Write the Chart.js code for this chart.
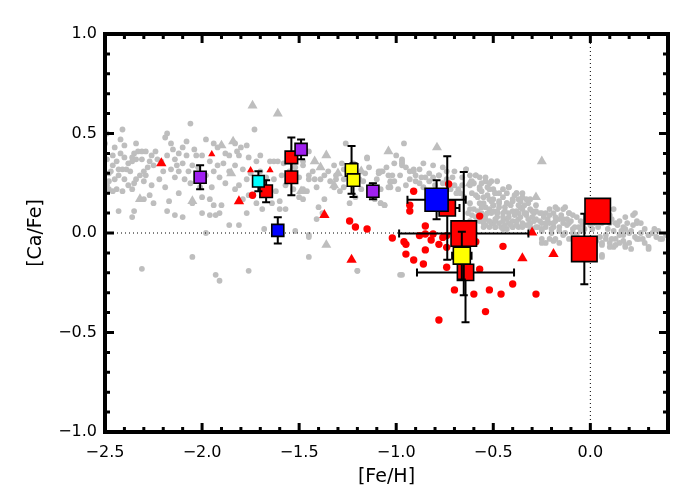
<!DOCTYPE html>
<html><head><meta charset="utf-8">
<script src="https://cdn.jsdelivr.net/npm/chart.js@4.4.1/dist/chart.umd.min.js"></script>
<style>html,body{margin:0;padding:0;background:#fff;}</style>
</head><body>
<canvas id="c" width="700" height="500"></canvas>
<script>
// ---------- axis ticks ----------
const xTicks = [-2.5, -2.0, -1.5, -1.0, -0.5, 0.0];
const yTicks = [-1.0, -0.5, 0.0, 0.5, 1.0];
const xRange = [-2.5, 0.4];
const yRange = [-1.0, 1.0];

// ---------- reference lines ([Ca/Fe]=0 and [Fe/H]=0) ----------
const zeroLineH = [[-2.5, 0], [0.4, 0]];
const zeroLineV = [[0, -1.0], [0, 1.0]];

// ---------- grey comparison stars (dots) [Fe/H],[Ca/Fe] ----------
const greyDots = [
[-2.06,0.55],[-2.41,0.52],[-1.73,0.52],[-2.49,0.50],[-2.18,0.50],[-2.50,0.45],[-2.42,0.47],[-2.34,0.45],[-2.19,0.48],[-2.16,0.45],[-2.08,0.46],[-1.98,0.47],[-1.77,0.44],
[-2.31,0.41],[-2.33,0.41],[-2.35,0.40],[-2.36,0.38],[-2.34,0.37],[-2.36,0.36],[-2.38,0.35],[-2.39,0.32],[-2.37,0.31],[-2.41,0.32],[-2.43,0.32],[-2.46,0.34],[-2.47,0.31],[-2.48,0.30],[-2.45,0.27],[-2.49,0.24],[-2.48,0.26],[-2.49,0.37],[-2.46,0.39],[-2.42,0.40],[-2.40,0.38],[-2.44,0.36],
[-2.29,0.41],[-2.24,0.41],[-2.23,0.37],[-2.27,0.36],[-2.25,0.34],[-2.30,0.31],[-2.29,0.29],[-2.32,0.29],[-2.34,0.27],[-2.30,0.26],[-2.35,0.25],[-2.36,0.22],[-2.41,0.21],[-2.44,0.22],[-2.48,0.22],[-2.46,0.21],
[-2.18,0.39],[-2.14,0.37],[-2.12,0.40],[-2.08,0.39],[-2.13,0.34],[-2.10,0.35],[-2.12,0.31],[-2.14,0.28],[-2.09,0.27],[-2.07,0.31],[-2.05,0.34],[-2.06,0.25],[-2.03,0.39],[-2.00,0.39],[-1.96,0.36],[-1.92,0.34],[-1.94,0.31],[-1.98,0.29],[-1.91,0.28],[-2.01,0.23],[-2.00,0.18],[-1.96,0.17],[-2.05,0.15],[-2.12,0.20],[-2.17,0.16],[-2.18,0.11],[-2.14,0.09],[-2.10,0.08],[-1.94,0.14],[-1.90,0.14],[-2.00,0.10],[-1.96,0.09],[-1.93,0.09],[-1.91,0.10],
[-1.86,0.39],[-1.82,0.41],[-1.81,0.39],[-1.83,0.34],[-1.79,0.32],[-1.76,0.38],[-1.72,0.36],[-1.70,0.39],[-1.65,0.36],[-1.63,0.36],[-1.61,0.36],[-1.58,0.35],[-1.77,0.27],[-1.81,0.24],[-1.83,0.22],[-1.79,0.17],[-1.76,0.19],[-1.72,0.15],[-1.69,0.12],[-1.64,0.15],[-1.60,0.16],[-1.60,0.12],[-1.57,0.12],[-1.77,0.10],[-1.81,0.04],[-1.86,0.04],[-1.98,0.00],[-1.68,0.02],[-1.52,0.01],
[-2.43,0.11],[-2.36,0.08],[-2.35,0.11],[-2.25,0.15],[-2.27,0.19],[-2.30,0.17],
[-2.05,-0.12],[-2.31,-0.18],[-1.93,-0.21],[-1.91,-0.24],[-1.76,-0.19],
[-1.94,0.45],[-1.92,0.43],[-1.88,0.40],[-1.83,0.45],[-1.80,0.43],
[-1.26,0.45],[-1.45,0.41],[-1.37,0.29],[-1.31,0.29],[-1.27,0.27],[-1.09,0.30],[-1.07,0.31],[-1.12,0.24],[-1.48,0.34],[-1.45,0.29],[-1.38,0.10],[-1.45,-0.02],[-1.45,-0.12],
[-0.96,0.45],[-1.15,0.38],[-1.32,0.34],[-1.27,0.32],[-0.97,0.37],[-0.97,0.34],[-0.95,0.33],[-1.09,0.31],[-1.08,0.31],[-1.04,0.29],[-1.03,0.23],[-1.01,0.26],[-0.98,0.29],[-0.91,0.32],[-0.90,0.29],[-0.85,0.28],[-0.83,0.26],[-0.81,0.28],[-0.78,0.29],[-0.74,0.27],[-0.71,0.28],[-0.64,0.32],[-0.62,0.29],[-0.57,0.28],[-0.54,0.28],[-0.51,0.26],[-0.48,0.26],[-0.53,0.23],[-0.57,0.22],[-0.61,0.20],[-0.49,0.20],[-0.52,0.17],[-0.55,0.15],[-0.50,0.14],[-0.48,0.10],[-0.49,0.07],[-0.51,0.05],[-0.55,0.05],[-0.54,0.09],[-0.57,0.06],[-0.60,0.05],[-0.62,0.06],[-0.61,0.09],[-0.63,0.10],
[-1.46,0.21],[-1.48,0.17],[-1.40,0.13],[-1.37,0.17],[-1.41,0.07],[-1.45,-0.01],[-1.20,-0.19],[-0.97,-0.21],[-1.17,0.26],[-1.13,0.24],[-1.08,0.22],[-1.06,0.14],[-1.11,0.17],[-1.08,0.15],[-1.21,0.18],[-1.24,0.15],[-1.27,0.23],[-1.31,0.27],[-1.32,0.23],[-1.29,0.21],[-1.48,0.36],[-1.45,0.27],[-1.42,0.27],[-1.39,0.27],[-1.48,0.22],
[-1.15,0.375],[-1.085,0.305],[-1.03,0.255],
[-1.00,0.39],[-0.97,0.36],[-0.97,0.35],[-0.93,0.31],[-0.91,0.31],[-0.88,0.32],[-1.03,0.26],[-1.04,0.23],[-1.02,0.29],[-0.90,0.26],[-0.87,0.28],[-0.83,0.30],[-0.78,0.29],[-0.74,0.31],[-0.68,0.22],[-0.67,0.20],[-0.69,0.20],[-0.64,0.32],[-0.61,0.26],[-0.59,0.29],[-0.62,0.24],[-0.57,0.23],[-0.54,0.26],[-0.50,0.22],[-0.47,0.20],[-0.43,0.20],[-0.42,0.23],[-0.38,0.20],[-0.37,0.17],[-0.40,0.16],[-0.43,0.15],[-0.47,0.15],[-0.50,0.14],[-0.54,0.13],[-0.57,0.15],[-0.58,0.11],[-0.51,0.10],[-0.48,0.11],[-0.45,0.10],[-0.42,0.10],[-0.38,0.11],[-0.35,0.12],[-0.33,0.09],[-0.37,0.07],[-0.40,0.06],[-0.43,0.07],[-0.47,0.05],[-0.50,0.05],[-0.54,0.07],[-0.33,0.04],[-0.37,0.03],[-0.40,0.03],[-0.43,0.02],[-0.46,0.03],[-0.49,0.03],[-0.52,0.03],[-0.55,0.03],[-1.08,0.15],[-1.06,0.14],
[-0.59,0.29],[-0.52,0.25],[-0.52,0.22],[-0.49,0.20],[-0.45,0.22],[-0.42,0.23],[-0.38,0.20],[-0.40,0.17],[-0.35,0.18],[-0.32,0.15],[-0.36,0.13],[-0.43,0.15],[-0.47,0.16],[-0.50,0.17],[-0.55,0.18],[-0.59,0.19],[-0.56,0.13],[-0.52,0.12],[-0.48,0.10],[-0.44,0.11],[-0.40,0.11],[-0.37,0.10],[-0.33,0.10],[-0.30,0.11],[-0.26,0.10],[-0.23,0.10],[-0.19,0.10],[-0.17,0.12],[-0.13,0.13],[-0.11,0.10],[-0.07,0.08],[-0.11,0.05],[-0.14,0.05],[-0.18,0.06],[-0.21,0.05],[-0.25,0.05],[-0.28,0.07],[-0.31,0.05],[-0.35,0.05],[-0.38,0.06],[-0.42,0.05],[-0.45,0.06],[-0.49,0.06],[-0.52,0.06],[-0.55,0.06],[-0.57,0.09],[-0.54,0.04],[-0.49,0.03],[-0.45,0.02],[-0.40,0.03],[-0.35,0.03],[-0.25,0.02],[-0.19,0.03],[-0.16,0.01],[-0.13,0.00],[-0.09,0.02],[-0.06,0.03],[0.02,0.05],[0.06,0.05],[0.10,0.05],[0.13,0.05],[0.17,0.03],[0.18,0.08],[0.22,0.09],[0.24,0.05],[0.26,0.05],[0.28,0.02],[0.20,0.00],[0.17,-0.01],[0.13,-0.03],[0.10,-0.05],[0.06,-0.06],[0.12,-0.07],[0.18,-0.06],[0.24,-0.03],[0.27,-0.03],[0.30,-0.07],[0.34,-0.02],[0.37,-0.03],[0.39,-0.01],[0.30,-0.01],[0.06,-0.11],[-0.23,-0.05],[-0.19,-0.04],[-0.25,-0.03],
[-0.35,0.20],[-0.33,0.17],[-0.37,0.14],[-0.34,0.10],[-0.31,0.12],[-0.28,0.14],[-0.29,0.10],[-0.25,0.10],[-0.21,0.12],[-0.18,0.13],[-0.14,0.12],[-0.11,0.10],[-0.16,0.07],[-0.19,0.05],[-0.23,0.05],[-0.26,0.06],[-0.31,0.05],[-0.35,0.04],[-0.30,0.02],[-0.25,0.01],[-0.20,0.02],[-0.16,0.03],[-0.12,0.04],[-0.08,0.03],[-0.14,-0.01],[-0.18,-0.03],[-0.21,-0.03],[-0.25,-0.05],[-0.16,-0.05],[-0.11,-0.03],[-0.07,-0.01],[0.06,0.06],[0.10,0.09],[0.12,0.12],[0.14,0.04],[0.12,0.01],[0.08,-0.01],[0.05,-0.02],[0.06,-0.05],[0.11,-0.03],[0.15,-0.01],[0.18,0.02],[0.22,0.04],[0.24,0.06],[0.23,-0.02],[0.20,-0.05],[0.17,-0.04],[0.13,-0.06],[0.10,-0.07],[0.18,-0.07],[0.25,-0.03],[0.30,-0.01],[0.33,0.02],[0.36,-0.03],[0.30,-0.08],[0.06,-0.12],[0.23,0.10],
[-1.20,-0.19],[-0.98,-0.21],
[-0.62,0.15],[-0.60,0.12],[-0.58,0.18],[-0.56,0.21],[-0.53,0.19],[-0.51,0.16],[-0.47,0.13],[-0.45,0.18],[-0.44,0.13],[-0.41,0.14],[-0.39,0.19],[-0.36,0.16],[-0.34,0.14],[-0.31,0.17],[-0.30,0.08],[-0.28,0.11],[-0.27,0.03],[-0.24,0.08],[-0.22,0.07],[-0.21,0.09],[-0.18,0.08],[-0.15,0.09],[-0.14,0.07],[-0.12,0.07],[-0.10,0.06],[-0.09,0.09],[-0.05,0.06],[-0.04,0.04],[-0.03,0.02],[-0.02,0.07],[0.00,0.04],[0.01,0.02],[0.03,0.08],[0.04,0.03],[0.08,0.07],[0.09,0.02],[0.11,0.07],[0.15,0.06],[0.16,0.01],[0.19,0.05],[0.21,0.01],[0.26,0.00],[0.28,-0.05],[0.32,0.00],[0.35,0.01],[0.08,-0.03],[0.03,-0.04],[0.15,-0.05],[0.21,-0.08],[-0.45,0.08],[-0.42,0.08],[-0.39,0.09],[-0.36,0.08],[-0.32,0.07],[-0.29,0.06],[-0.44,0.04],[-0.41,0.04],[-0.38,0.04],[-0.31,0.03],[-0.28,0.03],[-0.23,0.03],[-0.20,0.00],[-0.09,0.00],[-0.05,0.01],[-0.48,0.08],[-0.50,0.11],[-0.53,0.10],[-0.56,0.10],[-0.59,0.08],[-0.62,0.12],[-0.65,0.18],[-0.66,0.24],[-0.70,0.24],[-0.72,0.22],[-0.76,0.25],[-0.80,0.24],[-0.86,0.23],[-0.88,0.25],[-0.93,0.27],[-0.95,0.24],[-0.99,0.22],[-0.60,0.25],[-0.56,0.25],[-0.66,0.28],[-0.70,0.31],[-0.76,0.33],[-0.81,0.34],[-0.86,0.35],
[-2.45,0.43],[-2.40,0.44],[-2.31,0.37],[-2.28,0.33],[-2.26,0.39],[-2.21,0.36],[-2.20,0.31],[-2.16,0.32],[-2.22,0.27],[-2.19,0.23],[-2.26,0.24],[-2.40,0.27],[-2.43,0.29],[-2.38,0.24],[-2.15,0.42],[-2.10,0.43],[-2.04,0.42],[-2.02,0.33],[-1.99,0.26],[-1.95,0.23],[-1.88,0.25],[-1.86,0.31],[-1.89,0.35],[-1.75,0.30],[-1.70,0.31],[-1.67,0.28],[-1.63,0.27],[-1.59,0.29],[-1.57,0.24],[-1.62,0.21],[-1.55,0.31],[-1.52,0.33],[-1.50,0.28],[-1.53,0.22],[-1.50,0.18],[-1.43,0.31],[-1.41,0.23],[-1.35,0.31],[-1.34,0.26],[-1.28,0.35],[-1.22,0.35],[-1.19,0.27],[-1.16,0.30],[-1.14,0.33],[-1.18,0.22],[-1.10,0.27],[-1.05,0.33],[-1.01,0.35]
];

// ---------- grey comparison stars (triangles) ----------
const greyTriangles = [
[-2.32,0.17],[-2.05,0.16],[-1.90,0.44],[-1.84,0.46],[-1.85,0.30],[-1.74,0.64],[-1.61,0.60],[-1.49,0.21],[-1.42,0.36],[-1.36,0.39],[-1.39,0.33],[-1.36,-0.06],[-1.30,0.30],[-1.04,0.41],[-0.79,0.43],[-0.25,0.36],[-0.28,0.18],[-1.18,0.31],[-1.32,0.24],[-0.62,0.25]
];

// ---------- red dots ----------
const redDots = [
[-1.74,0.19],[-1.24,0.06],[-1.21,0.03],[-1.15,0.02],[-0.91,0.21],[-0.93,0.14],[-0.93,0.11],[-1.02,-0.025],[-0.96,-0.044],[-0.95,-0.057],[-0.95,-0.106],[-0.91,-0.136],[-0.86,-0.156],[-0.85,-0.085],[-0.85,0.035],[-0.82,-0.035],[-0.78,-0.057],[-0.74,-0.072],[-0.74,-0.172],[-0.88,-0.013],[-0.85,-0.005],[-0.81,-0.005],[-0.76,-0.022],[-0.74,-0.013],[-0.73,0.246],[-0.57,0.085],[-0.59,-0.044],[-0.45,-0.067],[-0.57,-0.182],[-0.40,-0.256],[-0.52,-0.286],[-0.60,-0.307],[-0.46,-0.307],[-0.28,-0.307],[-0.70,-0.286],[-0.54,-0.395],[-0.78,-0.437]
];

// ---------- red triangles ----------
const redTrianglesLarge = [[-2.21,0.35],[-1.81,0.16],[-1.37,0.09],[-1.23,-0.134],[-0.35,-0.127],[-0.19,-0.106],[-0.30,0.003]];
const redTrianglesSmall = [[-1.95,0.396],[-1.75,0.316],[-1.65,0.316]];

// ---------- coloured squares with error bars ----------
const redSmallFeH  = [-1.67, -1.54, -1.54];
const redSmallCaFe = [0.21, 0.38, 0.28];
const redSmallErrX = [0, 0.02, 0.02];
const redSmallErrY = [0.055, 0.10, 0.09];

const purpleFeH  = [-2.01, -1.49, -1.12];
const purpleCaFe = [0.28, 0.42, 0.21];
const purpleErrX = [0, 0, 0];
const purpleErrY = [0.06, 0.05, 0.04];

const cyanFeH  = [-1.71];
const cyanCaFe = [0.26];
const cyanErrX = [0];
const cyanErrY = [0.05];

const blueSmallFeH  = [-1.61];
const blueSmallCaFe = [0.013];
const blueSmallErrX = [0];
const blueSmallErrY = [0.066];

const yellowSmallFeH  = [-1.23, -1.22];
const yellowSmallCaFe = [0.317, 0.266];
const yellowSmallErrX = [0, 0];
const yellowSmallErrY = [0.12, 0.085];

const redMediumFeH  = [-0.737, -0.643];
const redMediumCaFe = [0.126, -0.198];
const redMediumErrX = [0.063, 0.25];
const redMediumErrY = [0.26, 0.25];

const blueBigFeH  = [-0.792];
const blueBigCaFe = [0.167];
const blueBigErrX = [0.15];
const blueBigErrY = [0.098];

const redBigFeH  = [-0.652, -0.031, 0.038];
const redBigCaFe = [-0.003, -0.08, 0.11];
const redBigErrX = [0.333, 0, 0];
const redBigErrY = [0.31, 0.177, 0];

const yellowBigFeH  = [-0.662];
const yellowBigCaFe = [-0.114];
const yellowBigErrX = [0.05];
const yellowBigErrY = [0.12];

// ---------- helpers ----------
const pairs = arr => arr.map(([x, y]) => ({x, y}));
const zipPts = (xs, ys) => xs.map((x, i) => ({x, y: ys[i]}));
const fmt = v => (v < 0 ? '\u2212' : '') + Math.abs(v).toFixed(1);
const FONT = 'DejaVu Sans';

let order = 100;
function scatterSet(data, opts) {
  return Object.assign({type: 'scatter', data, order: order--, borderWidth: 0}, opts);
}
function squareSet(xs, ys, ex, ey, color, radius) {
  return {type: 'scatter', data: zipPts(xs, ys), errX: ex, errY: ey, order: order--,
    pointStyle: 'rect', pointRadius: radius, pointHoverRadius: radius,
    backgroundColor: color, borderColor: '#000', borderWidth: 1.6};
}
function lineSet(data) {
  return {type: 'line', data: pairs(data), order: order--, borderColor: '#000', borderWidth: 1,
    borderDash: [1, 3], pointRadius: 0, fill: false, tension: 0};
}

const GREY = '#bebebe';
const datasets = [
  scatterSet(pairs(greyDots), {pointStyle: 'circle', pointRadius: 2.9, backgroundColor: GREY, borderColor: GREY}),
  scatterSet(pairs(greyTriangles), {pointStyle: 'triangle', pointRadius: 5.8, backgroundColor: GREY, borderColor: GREY}),
  lineSet(zeroLineH),
  lineSet(zeroLineV),
  scatterSet(pairs(redDots), {pointStyle: 'circle', pointRadius: 3.7, backgroundColor: '#ff0000', borderColor: '#ff0000'}),
  scatterSet(pairs(redTrianglesLarge), {pointStyle: 'triangle', pointRadius: 6, backgroundColor: '#ff0000', borderColor: '#ff0000'}),
  scatterSet(pairs(redTrianglesSmall), {pointStyle: 'triangle', pointRadius: 4.2, backgroundColor: '#ff0000', borderColor: '#ff0000'}),
  squareSet(redSmallFeH, redSmallCaFe, redSmallErrX, redSmallErrY, '#ff0000', 8.8),
  squareSet(purpleFeH, purpleCaFe, purpleErrX, purpleErrY, '#a020f0', 8.5),
  squareSet(cyanFeH, cyanCaFe, cyanErrX, cyanErrY, '#00ffff', 8.2),
  squareSet(blueSmallFeH, blueSmallCaFe, blueSmallErrX, blueSmallErrY, '#0000ff', 8.5),
  squareSet(yellowSmallFeH, yellowSmallCaFe, yellowSmallErrX, yellowSmallErrY, '#ffff00', 8.8),
  squareSet(redMediumFeH, redMediumCaFe, redMediumErrX, redMediumErrY, '#ff0000', 11.5),
  squareSet(blueBigFeH, blueBigCaFe, blueBigErrX, blueBigErrY, '#0000ff', 16.3),
  squareSet(redBigFeH, redBigCaFe, redBigErrX, redBigErrY, '#ff0000', 18),
  squareSet(yellowBigFeH, yellowBigCaFe, yellowBigErrX, yellowBigErrY, '#ffff00', 12)
];

// error bars drawn right before each square dataset
const errorBars = {
  id: 'errorBars',
  beforeDatasetDraw(chart, args) {
    const ds = chart.data.datasets[args.index];
    if (!ds.errY) return;
    const xs = chart.scales.x, ys = chart.scales.y, ctx = chart.ctx;
    const cap = 4;
    ctx.save();
    ctx.strokeStyle = '#000';
    ctx.lineWidth = 2;
    ds.data.forEach((p, i) => {
      const ex = ds.errX[i], ey = ds.errY[i];
      const px = xs.getPixelForValue(p.x), py = ys.getPixelForValue(p.y);
      ctx.beginPath();
      if (ey > 0) {
        const t = ys.getPixelForValue(p.y + ey), b = ys.getPixelForValue(p.y - ey);
        ctx.moveTo(px, t); ctx.lineTo(px, b);
        ctx.moveTo(px - cap, t); ctx.lineTo(px + cap, t);
        ctx.moveTo(px - cap, b); ctx.lineTo(px + cap, b);
      }
      if (ex > 0) {
        const l = xs.getPixelForValue(p.x - ex), r = xs.getPixelForValue(p.x + ex);
        ctx.moveTo(l, py); ctx.lineTo(r, py);
        ctx.moveTo(l, py - cap); ctx.lineTo(l, py + cap);
        ctx.moveTo(r, py - cap); ctx.lineTo(r, py + cap);
      }
      ctx.stroke();
    });
    ctx.restore();
  }
};

// IDL-style frame with inward major/minor ticks on all four sides
const frame = {
  id: 'frame',
  afterDraw(chart) {
    const {ctx, chartArea: a} = chart;
    const xs = chart.scales.x, ys = chart.scales.y;
    ctx.save();
    ctx.strokeStyle = '#000';
    ctx.lineWidth = 3;
    ctx.beginPath();
    const majX = xs.ticks.map(t => t.value), majY = ys.ticks.map(t => t.value);
    for (let k = Math.ceil(xs.min * 10 - 1e-6); k <= Math.floor(xs.max * 10 + 1e-6); k++) {
      const v = k / 10, p = xs.getPixelForValue(v);
      const len = majX.some(m => Math.abs(m - v) < 1e-6) ? 9 : 5;
      ctx.moveTo(p, a.bottom); ctx.lineTo(p, a.bottom - len);
      ctx.moveTo(p, a.top); ctx.lineTo(p, a.top + len);
    }
    for (let k = Math.ceil(ys.min * 10 - 1e-6); k <= Math.floor(ys.max * 10 + 1e-6); k++) {
      const v = k / 10, p = ys.getPixelForValue(v);
      const len = majY.some(m => Math.abs(m - v) < 1e-6) ? 9 : 5;
      ctx.moveTo(a.left, p); ctx.lineTo(a.left + len, p);
      ctx.moveTo(a.right, p); ctx.lineTo(a.right - len, p);
    }
    ctx.stroke();
    ctx.lineWidth = 4;
    ctx.strokeRect(a.left, a.top, a.right - a.left, a.bottom - a.top);
    ctx.restore();
  }
};

new Chart(document.getElementById('c'), {
  type: 'scatter',
  data: {datasets},
  plugins: [errorBars, frame],
  options: {
    responsive: false,
    animation: false,
    events: [],
    layout: {padding: {top: 34, right: 32, left: 0, bottom: 0}},
    plugins: {legend: {display: false}, tooltip: {enabled: false}},
    scales: {
      x: {
        type: 'linear', position: 'bottom', min: xRange[0], max: xRange[1],
        afterBuildTicks: s => { s.ticks = xTicks.map(v => ({value: v})); },
        afterFit: s => { s.height = 68; },
        grid: {display: false, drawTicks: false},
        border: {display: false},
        ticks: {color: '#000', font: {family: FONT, size: 16}, padding: 11, maxRotation: 0, autoSkip: false, callback: v => fmt(v)},
        title: {display: true, text: '[Fe/H]', color: '#000', font: {family: FONT, size: 19}, padding: {top: 0, bottom: 12}}
      },
      y: {
        type: 'linear', position: 'left', min: yRange[0], max: yRange[1],
        afterBuildTicks: s => { s.ticks = yTicks.map(v => ({value: v})); },
        afterFit: s => { s.width = 105; },
        grid: {display: false, drawTicks: false},
        border: {display: false},
        ticks: {color: '#000', font: {family: FONT, size: 16}, padding: 8, autoSkip: false, callback: v => fmt(v)},
        title: {display: true, text: '[Ca/Fe]', color: '#000', font: {family: FONT, size: 19}, padding: {top: 25, bottom: 0}}
      }
    }
  }
});
</script>
</body></html>
